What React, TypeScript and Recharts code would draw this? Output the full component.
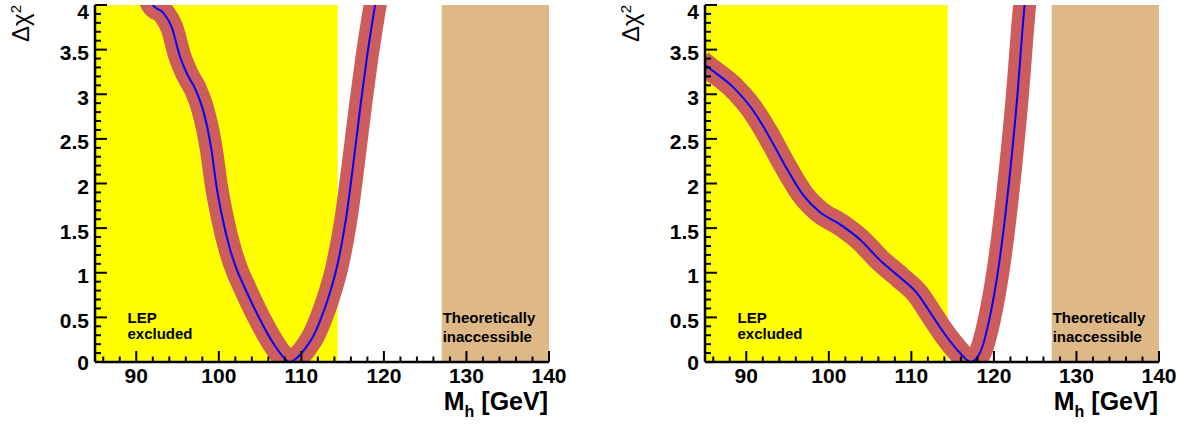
import { Line, LineChart, ReferenceArea, XAxis, YAxis } from "recharts";

// left panel: delta chi2 vs Higgs mass
const leftMass = [91.4, 92.0, 93.3, 94.3, 95.3, 96.2, 97.2, 98.0, 98.6, 99.1, 99.7, 100.4, 101.4, 102.2, 103.0, 104.8, 106.6, 107.6, 108.6, 109.5, 110.7, 111.5, 112.3, 113.2, 114.4, 115.4, 116.4, 117.2, 118.0, 118.9, 119.3];
const leftChi2 = [4.12, 4.0, 3.91, 3.75, 3.42, 3.22, 3.05, 2.85, 2.63, 2.38, 1.98, 1.63, 1.25, 1.03, 0.86, 0.51, 0.21, 0.08, 0.0, 0.05, 0.18, 0.3, 0.47, 0.7, 1.1, 1.6, 2.3, 2.9, 3.45, 3.98, 4.2];

// right panel
const rightMass = [84.5, 85.0, 88.4, 90.5, 92.5, 93.4, 94.7, 96.9, 98.9, 101.4, 103.8, 106.2, 108.6, 110.7, 112.6, 114.3, 115.9, 117.2, 118.3, 119.5, 120.5, 121.6, 122.8, 123.7, 124.0];
const rightChi2 = [3.37, 3.33, 3.08, 2.86, 2.57, 2.42, 2.2, 1.87, 1.68, 1.54, 1.37, 1.14, 0.95, 0.77, 0.51, 0.28, 0.1, 0.0, 0.1, 0.5, 1.02, 1.82, 2.94, 3.98, 4.25];

const lepExcluded = [85, 114.4];
const theoryExcluded = [127, 140];
const massDomain = [85, 140];
const chi2Domain = [0, 4];
const xTicks = [86, 88, 90, 92, 94, 96, 98, 100, 102, 104, 106, 108, 110, 112, 114, 116, 118, 120, 122, 124, 126, 128, 130, 132, 134, 136, 138, 140];
const yTicks = Array.from({ length: 41 }, (_, i) => i / 10);
const lepText = ["LEP", "excluded"];
const theoryText = ["Theoretically", "inaccessible"];

const FONT = "'Liberation Sans', Arial, Helvetica, sans-serif";
const BAND = "#cd5c5c";
const LINE = "#0000ff";

const isMajorX = (v: number) => v % 10 === 0;
const isMajorY = (v: number) => Math.abs(v * 2 - Math.round(v * 2)) < 1e-6;

function BottomTick({ x, y, payload }: any) {
  const v = payload.value;
  const major = isMajorX(v);
  return (
    <g>
      <line x1={x} y1={y} x2={x} y2={y - (major ? 11 : 5.5)} stroke="#000" strokeWidth={2} />
      {major && (
        <text x={x} y={y + 21} textAnchor="middle" fontSize={21} fontWeight="bold" fontFamily={FONT} fill="#000">
          {v}
        </text>
      )}
    </g>
  );
}

function TopTick({ x, y, payload }: any) {
  const major = isMajorX(payload.value);
  return <line x1={x} y1={y} x2={x} y2={y + (major ? 11 : 5.5)} stroke="#000" strokeWidth={2} />;
}

function LeftTick({ x, y, payload }: any) {
  const v = payload.value;
  const major = isMajorY(v);
  const dy = v === 4 ? 14 : v === 0 ? 8 : 10.5;
  return (
    <g>
      <line x1={x} y1={y} x2={x + (major ? 12 : 6)} y2={y} stroke="#000" strokeWidth={2} />
      {major && (
        <text x={x - 6} y={y + dy} textAnchor="end" fontSize={21} fontWeight="bold" fontFamily={FONT} fill="#000">
          {String(v)}
        </text>
      )}
    </g>
  );
}

function RightTick({ x, y, payload }: any) {
  const major = isMajorY(payload.value);
  return <line x1={x} y1={y} x2={x - (major ? 12 : 6)} y2={y} stroke="#000" strokeWidth={2} />;
}

function MassTitle({ viewBox }: any) {
  const { x, y, width } = viewBox;
  return (
    <text x={x + width - 1} y={y + 48} textAnchor="end" fontSize={25} fontWeight="bold" fontFamily={FONT} fill="#000">
      M<tspan fontSize={16} dy={7}>h</tspan>
      <tspan dy={-7}> [GeV]</tspan>
    </text>
  );
}

function ChiTitle({ viewBox }: any) {
  const px = viewBox.x + 29;
  const py = viewBox.y;
  return (
    <text
      x={px}
      y={py}
      transform={`rotate(-90 ${px} ${py})`}
      textAnchor="end"
      fontSize={24}
      fontFamily={FONT}
      fill="#000"
    >
      Δχ<tspan fontSize={15} dy={-8}>2</tspan>
    </text>
  );
}

function BandNote({ viewBox, lines, dx, offsets }: any) {
  const { x, y, height } = viewBox;
  const bottom = y + height;
  return (
    <text fontSize={15} fontWeight="bold" fontFamily={FONT} fill="#000">
      {lines.map((line: string, i: number) => (
        <tspan key={line} x={x + dx} y={bottom - offsets[i]}>
          {line}
        </tspan>
      ))}
    </text>
  );
}

type PanelProps = {
  mass: number[];
  chi2: number[];
  width: number;
  left: number;
};

function Chi2Panel({ mass, chi2, width, left }: PanelProps) {
  const data = mass.map((m, i) => ({ m, chi2: chi2[i] }));
  return (
    <div style={{ position: "absolute", left, top: 0 }}>
      <LineChart width={width} height={426} data={data} margin={{ top: 5, right: width - 549, bottom: 0, left: 0 }}>
        <ReferenceArea xAxisId="b" yAxisId="l" x1={lepExcluded[0]} x2={lepExcluded[1]} fill="#ffff00" fillOpacity={1} stroke="none"
          label={<BandNote lines={lepText} dx={32.5} offsets={[39, 23]} />} />
        <ReferenceArea xAxisId="b" yAxisId="l" x1={theoryExcluded[0]} x2={theoryExcluded[1]} fill="#deb887" fillOpacity={1} stroke="none"
          label={<BandNote lines={theoryText} dx={1} offsets={[39, 20.5]} />} />
        <Line xAxisId="b" yAxisId="l" type="monotone" dataKey="chi2" stroke={BAND} strokeWidth={23} strokeLinejoin="round"
          dot={false} activeDot={false} isAnimationActive={false} />
        <Line xAxisId="b" yAxisId="l" type="monotone" dataKey="chi2" stroke={LINE} strokeWidth={2}
          dot={false} activeDot={false} isAnimationActive={false} />
        <XAxis xAxisId="b" dataKey="m" type="number" domain={massDomain} allowDataOverflow ticks={xTicks} interval={0}
          height={64} tickSize={0} tickMargin={0} tickLine={false} axisLine={{ stroke: "#000", strokeWidth: 2.5 }}
          tick={(p: any) => <BottomTick {...p} />} label={<MassTitle />} />
        <XAxis xAxisId="t" orientation="top" dataKey="m" type="number" domain={massDomain} allowDataOverflow ticks={xTicks} interval={0}
          height={0} tickSize={0} tickMargin={0} tickLine={false} axisLine={{ stroke: "#000", strokeWidth: 2.5 }}
          tick={(p: any) => <TopTick {...p} />} />
        <YAxis yAxisId="l" type="number" domain={chi2Domain} allowDataOverflow ticks={yTicks} interval={0}
          width={95} tickSize={0} tickMargin={0} tickLine={false} axisLine={{ stroke: "#000", strokeWidth: 2.5 }}
          tick={(p: any) => <LeftTick {...p} />} label={<ChiTitle />} />
        <YAxis yAxisId="r" orientation="right" type="number" domain={chi2Domain} allowDataOverflow ticks={yTicks} interval={0}
          width={0} tickSize={0} tickMargin={0} tickLine={false} axisLine={{ stroke: "#000", strokeWidth: 2.5 }}
          tick={(p: any) => <RightTick {...p} />} />
      </LineChart>
    </div>
  );
}

export default function App() {
  return (
    <div style={{ position: "fixed", left: 0, top: 0, width: 1185, height: 426, background: "#fff" }}>
      <Chi2Panel mass={leftMass} chi2={leftChi2} width={610} left={0} />
      <Chi2Panel mass={rightMass} chi2={rightChi2} width={575} left={610} />
    </div>
  );
}
